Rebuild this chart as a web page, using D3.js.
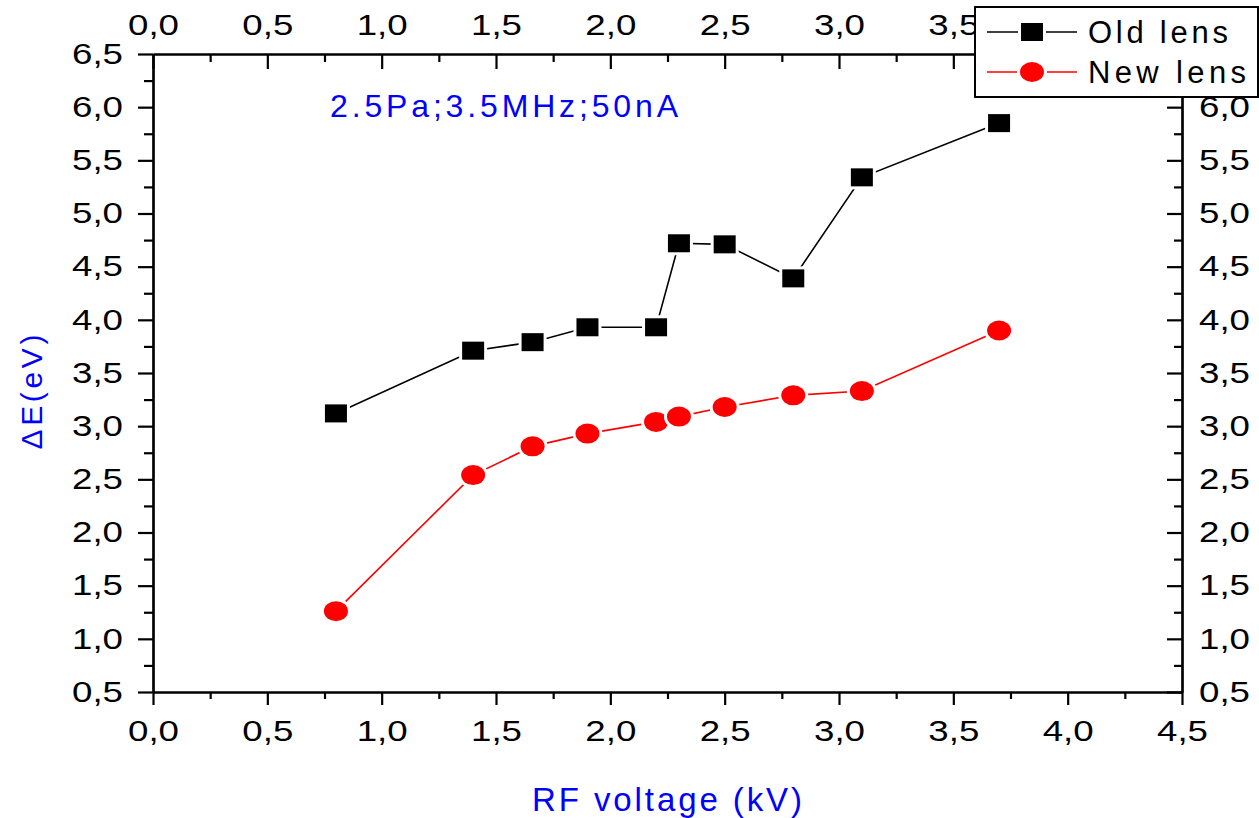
<!DOCTYPE html>
<html>
<head>
<meta charset="utf-8">
<script src="https://cdn.jsdelivr.net/npm/d3@7"></script>
<style>
  html, body { margin: 0; padding: 0; background: #fff; }
  svg { display: block; font-family: "Liberation Sans", Arial, sans-serif; }
</style>
</head>
<body>
<div id="chart"></div>
<script>
// data
var voltage = [0.8, 1.4, 1.66, 1.9, 2.2, 2.3, 2.5, 2.8, 3.1, 3.7];
var oldLens = [3.12, 3.71, 3.79, 3.93, 3.93, 4.72, 4.71, 4.39, 5.34, 5.85];
var newLens = [1.26, 2.54, 2.81, 2.93, 3.04, 3.09, 3.18, 3.29, 3.33, 3.90];
var xTicks = [0, 0.5, 1, 1.5, 2, 2.5, 3, 3.5, 4, 4.5];
var yTicks = [0.5, 1, 1.5, 2, 2.5, 3, 3.5, 4, 4.5, 5, 5.5, 6, 6.5];
var seriesNames = ["Old lens", "New lens"];

var W = 1259, H = 818;
var margin = { top: 54, right: 77, bottom: 126, left: 153 };
var width = W - margin.left - margin.right;
var height = H - margin.top - margin.bottom;

var svg = d3.select("#chart").append("svg")
  .attr("width", W)
  .attr("height", H);

var g = svg.append("g")
  .attr("transform", "translate(" + margin.left + "," + margin.top + ")");

var x = d3.scaleLinear().domain([0, 4.5]).range([0, width]);
var y = d3.scaleLinear().domain([0.5, 6.5]).range([height, 0]);

var fmt = function (d) { return d3.format(".1f")(d).replace(".", ","); };
// top / right labels that sit under the legend box are not drawn
var fmtTop = function (d) { return d >= 4 ? "" : fmt(d); };
var fmtRight = function (d) { return d >= 6.5 ? "" : fmt(d); };
// minor ticks halfway between the labelled ones
var xMinor = xTicks.slice(0, -1).map(function (d) { return d + 0.25; });
var yMinor = yTicks.slice(0, -1).map(function (d) { return d + 0.25; });

function styleAxis(sel) {
  sel.select(".domain").attr("stroke", "#000").attr("stroke-width", 2.2);
  sel.selectAll(".tick line").attr("stroke", "#000").attr("stroke-width", 2.2);
  // labels in the original are drawn a little wide
  sel.selectAll("text")
    .attr("fill", "#000")
    .style("font-size", "29px")
    .attr("textLength", function () { return this.textContent ? 51 : null; })
    .attr("lengthAdjust", "spacingAndGlyphs");
}

// minor ticks first
g.append("g").attr("transform", "translate(0," + height + ")")
  .call(d3.axisBottom(x).tickValues(xMinor).tickSize(7).tickFormat("").tickSizeOuter(0)).call(styleAxis);
g.append("g")
  .call(d3.axisTop(x).tickValues(xMinor).tickSize(-8).tickFormat("").tickSizeOuter(0)).call(styleAxis);
g.append("g")
  .call(d3.axisLeft(y).tickValues(yMinor).tickSize(9).tickFormat("").tickSizeOuter(0)).call(styleAxis);
g.append("g").attr("transform", "translate(" + width + ",0)")
  .call(d3.axisRight(y).tickValues(yMinor).tickSize(-8).tickFormat("").tickSizeOuter(0)).call(styleAxis);

// major ticks + labels
g.append("g").attr("transform", "translate(0," + height + ")")
  .call(d3.axisBottom(x).tickValues(xTicks).tickSize(13).tickPadding(15).tickFormat(fmt).tickSizeOuter(0)).call(styleAxis);
g.append("g")
  .call(d3.axisTop(x).tickValues(xTicks).tickSize(-15).tickPadding(19).tickFormat(fmtTop).tickSizeOuter(0)).call(styleAxis);
g.append("g")
  .call(d3.axisLeft(y).tickValues(yTicks).tickSize(15).tickPadding(15).tickFormat(fmt).tickSizeOuter(0)).call(styleAxis);
g.append("g").attr("transform", "translate(" + width + ",0)")
  .call(d3.axisRight(y).tickValues(yTicks).tickSize(-15).tickPadding(17).tickFormat(fmtRight).tickSizeOuter(0)).call(styleAxis);

// series
var series = [
  { name: seriesNames[0], values: oldLens, color: "#000", shape: "square" },
  { name: seriesNames[1], values: newLens, color: "#ff0000", shape: "circle" }
];

var line = d3.line()
  .x(function (d) { return x(d[0]); })
  .y(function (d) { return y(d[1]); });

function drawMarker(sel, s) {
  if (s.shape === "square") {
    sel.append("rect")
      .attr("x", -11).attr("y", -9)
      .attr("width", 22).attr("height", 18);
  } else {
    sel.append("ellipse").attr("rx", 12).attr("ry", 10);
  }
  sel.select(":last-child")
    .attr("fill", s.color)
    .attr("stroke", "#fff")
    .attr("stroke-width", 6)
    .style("paint-order", "stroke");
}

series.forEach(function (s) {
  var pts = voltage.map(function (v, i) { return [v, s.values[i]]; });
  g.append("path")
    .datum(pts)
    .attr("fill", "none")
    .attr("stroke", s.color)
    .attr("stroke-width", 1.6)
    .attr("d", line);
  g.selectAll(null)
    .data(pts)
    .enter()
    .append("g")
    .attr("transform", function (d) { return "translate(" + x(d[0]) + "," + y(d[1]) + ")"; })
    .each(function () { drawMarker(d3.select(this), s); });
});

// annotation
svg.append("text")
  .attr("x", 330).attr("y", 117)
  .attr("fill", "#0000ff")
  .style("font-size", "32px")
  .attr("textLength", 348)
  .attr("lengthAdjust", "spacing")
  .text("2.5Pa;3.5MHz;50nA");

// axis titles
svg.append("text")
  .attr("x", 532).attr("y", 811)
  .attr("fill", "#0000ff")
  .style("font-size", "33px")
  .attr("textLength", 270)
  .attr("lengthAdjust", "spacing")
  .text("RF voltage (kV)");

svg.append("text")
  .attr("transform", "translate(42,392) rotate(-90)")
  .attr("text-anchor", "middle")
  .attr("fill", "#0000ff")
  .style("font-size", "30px")
  .attr("textLength", 115)
  .attr("lengthAdjust", "spacing")
  .text("\u0394E(eV)");

// legend
var legend = svg.append("g").attr("transform", "translate(975,7)");
legend.append("rect")
  .attr("width", 283).attr("height", 90)
  .attr("fill", "#fff")
  .attr("stroke", "#000")
  .attr("stroke-width", 2);

var legendTextLen = [140, 158];
series.forEach(function (s, i) {
  var row = legend.append("g").attr("transform", "translate(0," + (25 + i * 40) + ")");
  row.append("line")
    .attr("x1", 12).attr("x2", 102)
    .attr("stroke", s.color)
    .attr("stroke-width", 1.6);
  var m = row.append("g").attr("transform", "translate(57,0)");
  drawMarker(m, s);
  row.append("text")
    .attr("x", 113).attr("y", 11)
    .attr("fill", "#000")
    .style("font-size", "31px")
    .attr("textLength", legendTextLen[i])
    .attr("lengthAdjust", "spacing")
    .text(s.name);
});
</script>
</body>
</html>
